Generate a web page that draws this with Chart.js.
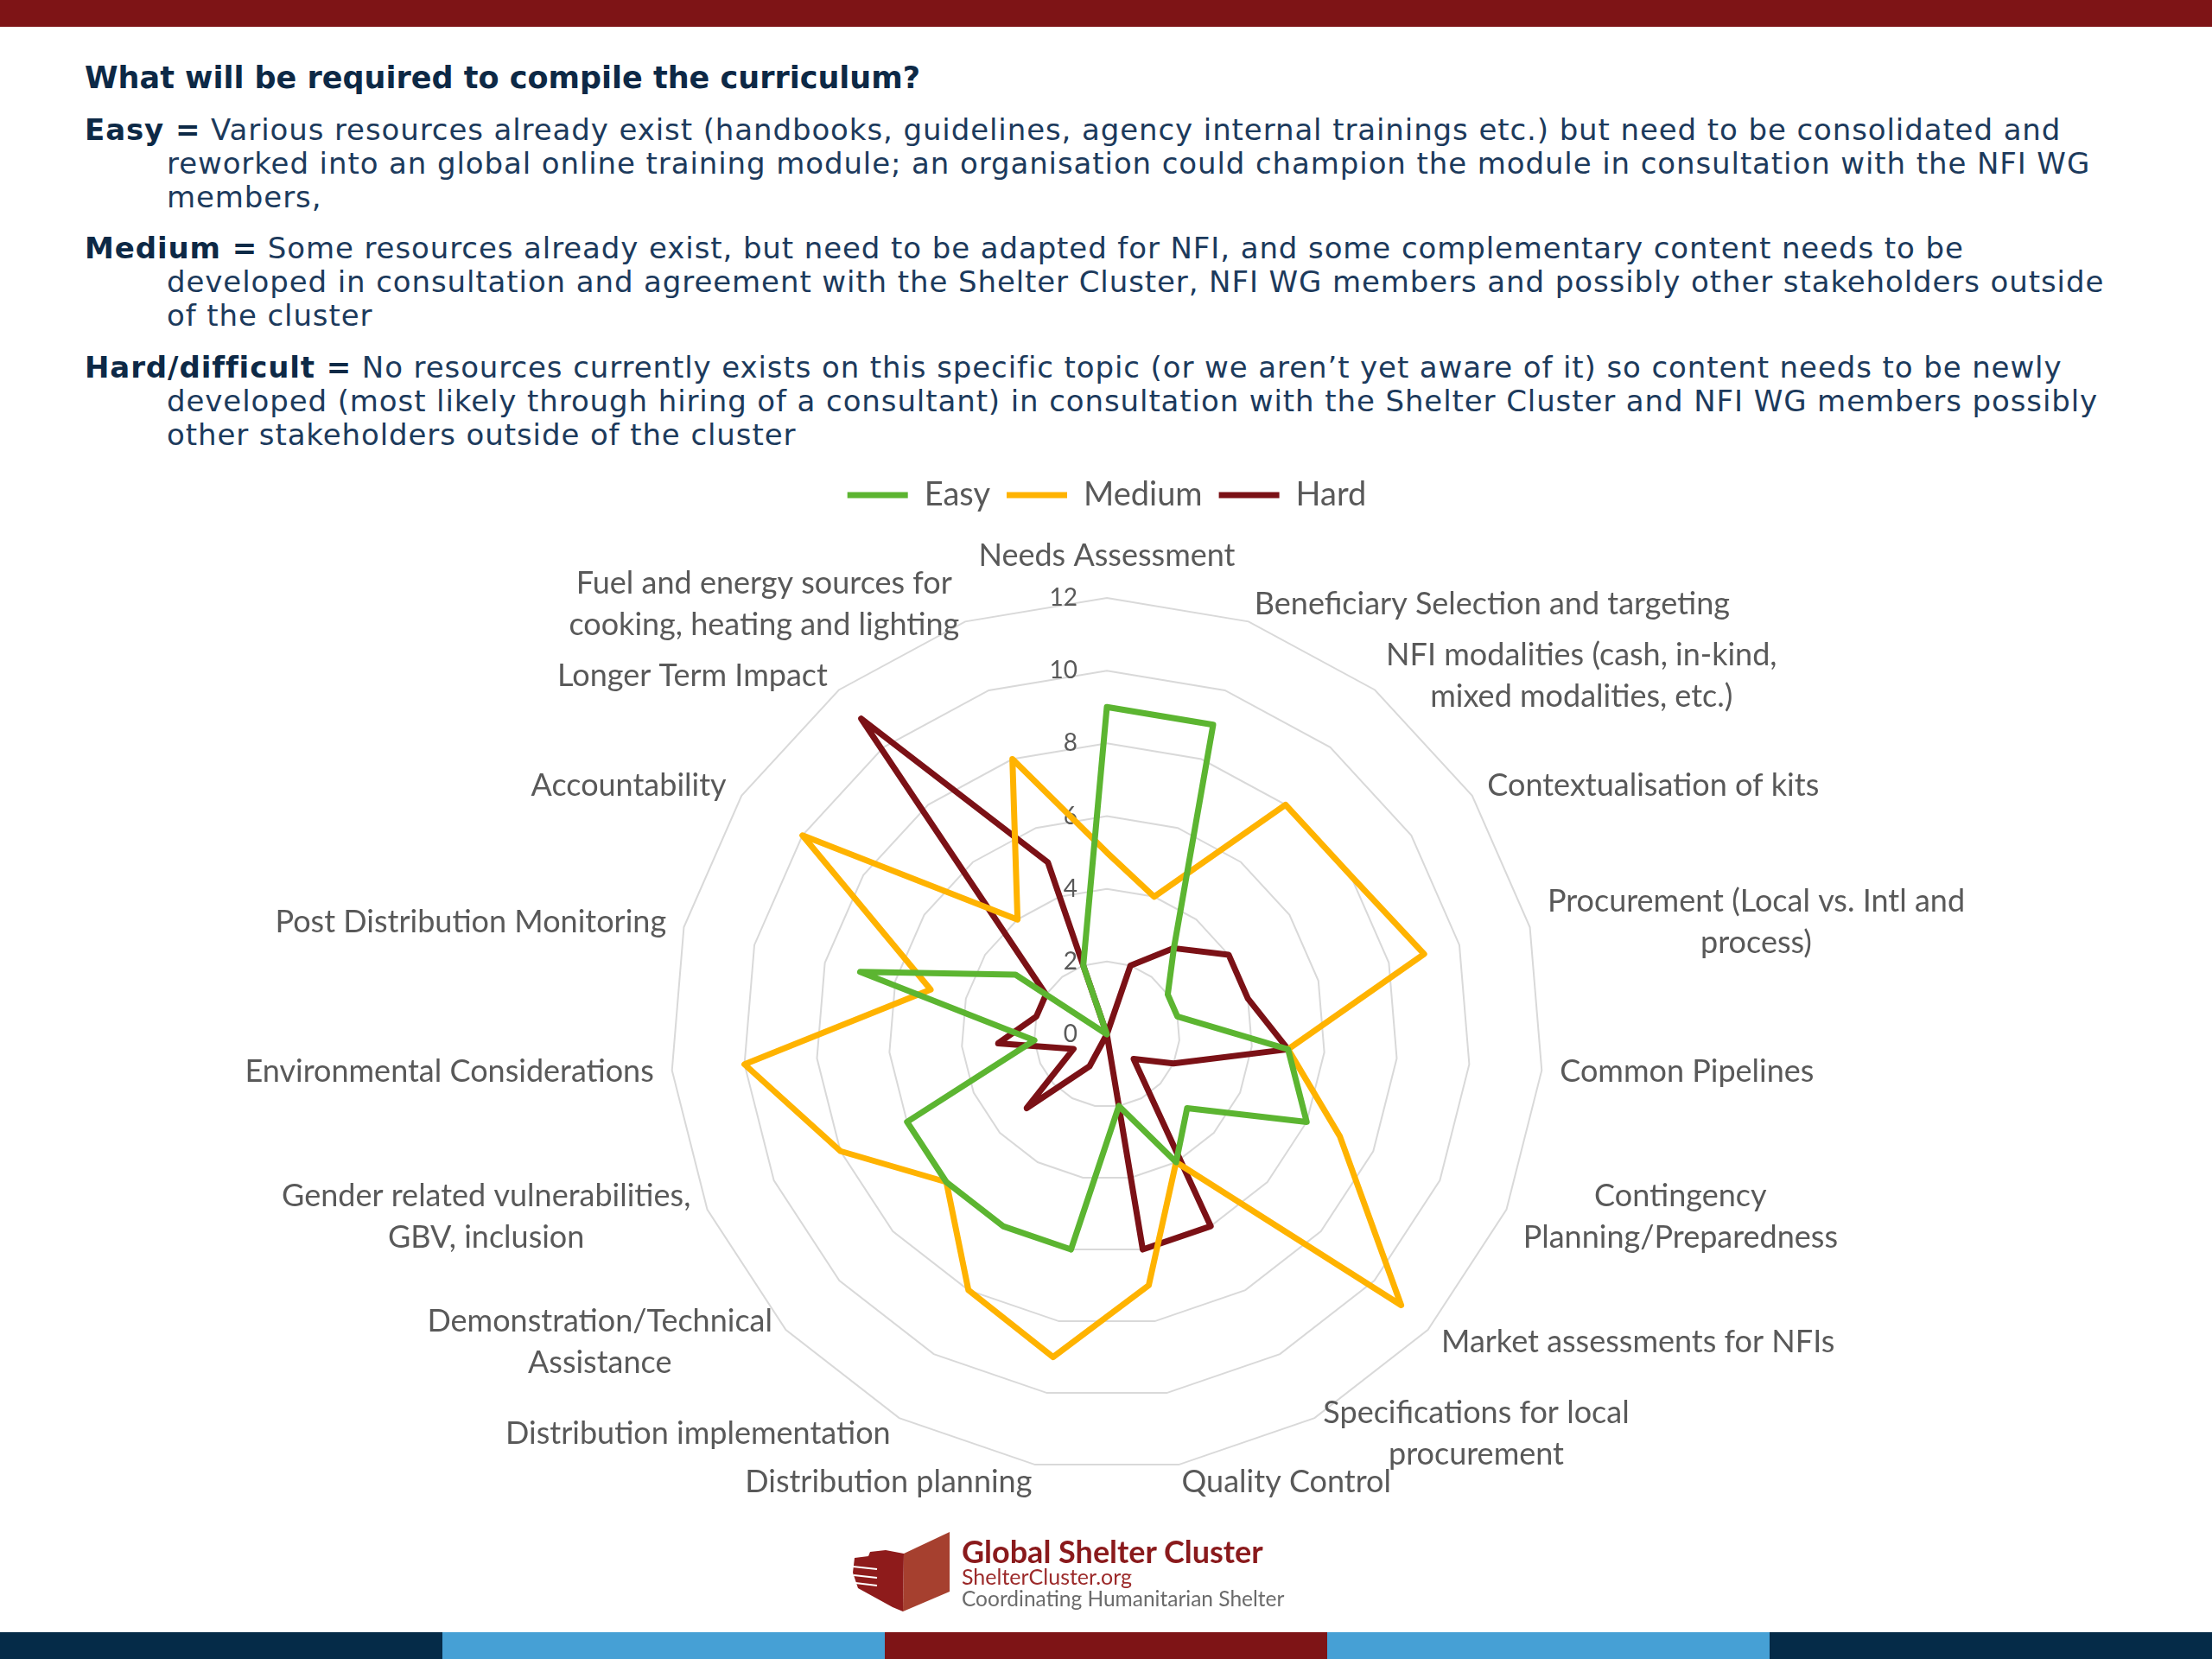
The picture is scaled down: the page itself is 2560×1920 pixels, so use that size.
<!DOCTYPE html>
<html>
<head>
<meta charset="utf-8">
<title>What will be required to compile the curriculum?</title>
<script src="https://cdn.jsdelivr.net/npm/chart.js@4.4.1/dist/chart.umd.min.js"></script>
<style>
  html, body { margin: 0; padding: 0; background: #fff; }
  body { width: 2560px; height: 1920px; position: relative; overflow: hidden; font-family: "DejaVu Sans", Verdana, sans-serif; }
  .topbar { position: absolute; left: 0; top: 0; width: 2560px; height: 31px; background: #7e1416; }
  .title { position: absolute; left: 98px; top: 68px; font-size: 35px; line-height: 44px; font-weight: bold; color: #0d2946; white-space: nowrap; }
  .para { position: absolute; left: 98px; margin: 0; padding-left: 95px; text-indent: -95px; font-size: 34px; letter-spacing: 0.9px; line-height: 39px; color: #1c3a5c; white-space: nowrap; }
  .para b { color: #0d2946; }
  #chart { position: absolute; left: 0; top: 0; }
  .logo-text { position: absolute; left: 1113px; font-family: Lato, sans-serif; white-space: nowrap; }
  .bottombar { position: absolute; left: 0; top: 1889px; width: 2560px; height: 31px; display: flex; }
  .bottombar div { flex: 1; }
</style>
</head>
<body>
<div class="topbar"></div>

<div class="title">What will be required to compile the curriculum?</div>
<p class="para" style="top:131px"><b>Easy =</b> Various resources already exist (handbooks, guidelines, agency internal trainings etc.) but need to be consolidated and<br>reworked into an global online training module; an organisation could champion the module in consultation with the NFI WG<br>members,</p>
<p class="para" style="top:268px"><b>Medium =</b> Some resources already exist, but need to be adapted for NFI, and some complementary content needs to be<br>developed in consultation and agreement with the Shelter Cluster, NFI WG members and possibly other stakeholders outside<br>of the cluster</p>
<p class="para" style="top:406px"><b>Hard/difficult =</b> No resources currently exists on this specific topic (or we aren’t yet aware of it) so content needs to be newly<br>developed (most likely through hiring of a consultant) in consultation with the Shelter Cluster and NFI WG members possibly<br>other stakeholders outside of the cluster</p>

<canvas id="chart" width="2560" height="1920"></canvas>

<svg style="position:absolute;left:985px;top:1770px" width="120" height="100" viewBox="0 0 120 100">
  <polygon points="61,28 114,3 114,72 60,95" fill="#a6402f"/>
  <polygon points="4,33 20,31 22,26 40,24 61,28 60,95 48,90 8,68 2,50" fill="#8e1b1b"/>
  <line x1="2" y1="43" x2="30" y2="46" stroke="#fff" stroke-width="2"/>
  <line x1="3" y1="53" x2="30" y2="56" stroke="#fff" stroke-width="2"/>
  <line x1="5" y1="62" x2="30" y2="65" stroke="#fff" stroke-width="2"/>
</svg>
<div class="logo-text" style="top:1775px;font-size:36px;line-height:40px;font-weight:bold;color:#8a1a1c">Global Shelter Cluster</div>
<div class="logo-text" style="top:1810px;font-size:25px;line-height:28px;color:#9c2a2a">ShelterCluster.org</div>
<div class="logo-text" style="top:1836px;font-size:24.5px;line-height:28px;color:#6b6b6b">Coordinating Humanitarian Shelter</div>

<div class="bottombar">
  <div style="background:#052b48"></div>
  <div style="background:#46a0d5"></div>
  <div style="background:#7e1416"></div>
  <div style="background:#46a0d5"></div>
  <div style="background:#052b48"></div>
</div>

<script>
  const categories = [
    "Needs Assessment",
    "Beneficiary Selection and targeting",
    ["NFI modalities (cash, in-kind,", "mixed modalities, etc.)"],
    "Contextualisation of kits",
    ["Procurement (Local vs. Intl and", "process)"],
    "Common Pipelines",
    ["Contingency", "Planning/Preparedness"],
    "Market assessments for NFIs",
    ["Specifications for local", "procurement"],
    "Quality Control",
    "Distribution planning",
    "Distribution implementation",
    ["Demonstration/Technical", "Assistance"],
    ["Gender related vulnerabilities,", "GBV, inclusion"],
    "Environmental Considerations",
    "Post Distribution Monitoring",
    "Accountability",
    "Longer Term Impact",
    ["Fuel and energy sources for", "cooking, heating and lighting"]
  ];

  const easy   = [9, 9, 3, 2, 2, 5, 6, 3, 4, 2, 6, 6, 6, 6, 2, 7, 3, 0, 2];
  const medium = [5, 4, 8, 8, 9, 5, 7, 11, 4, 7, 9, 8, 6, 8, 10, 5, 10, 4, 8];
  const hard   = [0, 2, 3, 4, 4, 5, 2, 1, 6, 6, 0, 1, 3, 1, 3, 2, 2, 11, 5];

  const axisMin = 0;
  const axisMax = 12;
  const axisStep = 2;

  const GREY = "#595959";
  const LABEL_LINE = 48;

  function series(label, data, color) {
    return {
      label,
      data,
      borderColor: color,
      backgroundColor: color,
      borderWidth: 7,
      borderJoinStyle: "round",
      fill: false,
      tension: 0,
      pointRadius: 0,
      pointHoverRadius: 0,
      pointBorderWidth: 7,
      pointBorderColor: color,
      pointBackgroundColor: color
    };
  }

  // value labels sit left of the vertical axis, under the lines
  const tickLabels = {
    id: "tickLabels",
    beforeDatasetsDraw(chart) {
      const r = chart.scales.r;
      const ctx = chart.ctx;
      ctx.save();
      ctx.font = "28px Lato";
      ctx.fillStyle = GREY;
      ctx.textAlign = "right";
      ctx.textBaseline = "middle";
      r.ticks.forEach(t => {
        const y = r.yCenter - r.getDistanceFromCenterForValue(t.value);
        ctx.fillText(t.label, r.xCenter - 34, y);
      });
      ctx.restore();
    }
  };

  // category labels, multi-line blocks centred like the original
  const categoryLabels = {
    id: "categoryLabels",
    afterDraw(chart) {
      const r = chart.scales.r;
      const ctx = chart.ctx;
      ctx.save();
      ctx.font = "36px Lato";
      ctx.fillStyle = GREY;
      ctx.textAlign = "center";
      ctx.textBaseline = "middle";
      chart.data.labels.forEach((label, i) => {
        const lines = [].concat(label);
        const p = r.getPointPosition(i, r.drawingArea + 21);
        const a = r.getIndexAngle(i);
        const w = Math.max(...lines.map(l => ctx.measureText(l).width));
        const h = lines.length * LABEL_LINE;
        const s = Math.sin(a);
        let cx = p.x;
        let cy = p.y;
        if (s > 0.01) cx += w / 2;
        else if (s < -0.01) cx -= w / 2;
        if (Math.cos(a) > 0.99) cy -= h / 2 + 4;
        lines.forEach((l, k) => {
          ctx.fillText(l, cx, cy - h / 2 + LABEL_LINE * (k + 0.5));
        });
      });
      ctx.restore();
    }
  };

  new Chart(document.getElementById("chart"), {
    type: "radar",
    data: {
      labels: categories,
      datasets: [
        series("Easy", easy, "#5cb531"),
        series("Medium", medium, "#ffb300"),
        series("Hard", hard, "#7b1116")
      ]
    },
    options: {
      responsive: false,
      devicePixelRatio: 1,
      animation: false,
      events: [],
      layout: { padding: { top: 535, left: 776, right: 774, bottom: 128 } },
      plugins: {
        legend: {
          position: "top",
          labels: {
            usePointStyle: true,
            pointStyle: "line",
            pointStyleWidth: 70,
            padding: 19,
            color: GREY,
            font: { family: "Lato", size: 38 }
          }
        },
        tooltip: { enabled: false }
      },
      scales: {
        r: {
          min: axisMin,
          max: axisMax,
          ticks: { stepSize: axisStep, display: false },
          grid: { color: "#d9d9d9", lineWidth: 2 },
          angleLines: { display: false },
          pointLabels: { display: false }
        }
      }
    },
    plugins: [tickLabels, categoryLabels]
  });
</script>
</body>
</html>
